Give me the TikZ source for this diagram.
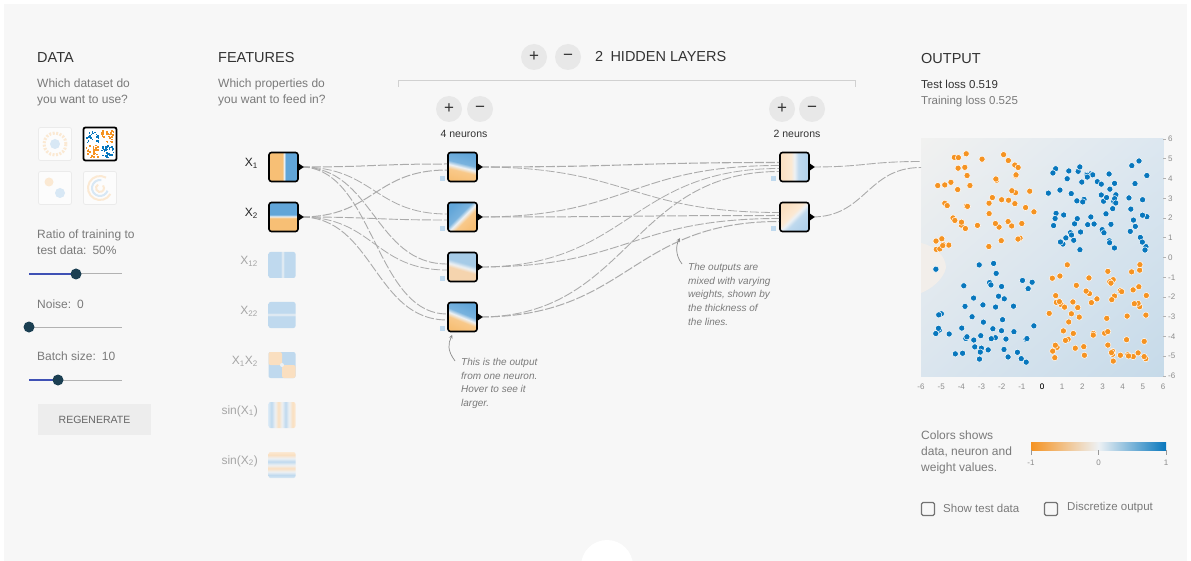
\documentclass[tikz,border=0pt]{standalone}
\usepackage{fontspec}
\setmainfont{Liberation Sans}
\usepackage{tikz}
\usetikzlibrary{shadings}

\definecolor{pagegray}{HTML}{F7F7F7}
\definecolor{hintgray}{HTML}{7A7A7A}
\definecolor{textdark}{HTML}{333333}
\definecolor{pgorange}{HTML}{F59322}
\definecolor{pgblue}{HTML}{0877BD}
\definecolor{fo}{HTML}{F7BF75}
\definecolor{fb}{HTML}{61A5D8}
\definecolor{po}{HTML}{FADFC0}
\definecolor{pb}{HTML}{BFD9EE}
\definecolor{mo}{HTML}{F5D4AE}
\definecolor{mb}{HTML}{A6CBE7}
\definecolor{mid}{HTML}{EDF1F4}
\definecolor{knob}{HTML}{1B3F52}
\definecolor{track}{HTML}{3F51B5}
\definecolor{btngray}{HTML}{E8E8E8}
\definecolor{linkgray}{HTML}{ABABAB}
\definecolor{plotul}{HTML}{F1F1F0}
\definecolor{plotur}{HTML}{DCE7F0}
\definecolor{plotll}{HTML}{DAE5EE}
\definecolor{plotlr}{HTML}{C6DAE9}
\definecolor{plotbeige}{HTML}{F2EEEA}
\colorlet{fosoft}{fo!85!white}
\colorlet{fbsoft}{fb!85!white}
\colorlet{polight}{po!70!white}
\colorlet{pblight}{pb!60!white}
\colorlet{pbdeep}{pb!85!fb}

% output images of the units: orange on the left, blue on the right
\pgfdeclarehorizontalshading{vivid}{100bp}{color(0bp)=(fo); color(25bp)=(fo); color(48bp)=(fo); color(51bp)=(mid); color(54bp)=(fb); color(75bp)=(fb); color(100bp)=(fb)}
\pgfdeclarehorizontalshading{soft}{100bp}{color(0bp)=(fo); color(25bp)=(fo); color(42bp)=(fosoft); color(49bp)=(mid); color(56bp)=(fbsoft); color(75bp)=(fb); color(100bp)=(fb)}
\pgfdeclarehorizontalshading{mild}{100bp}{color(0bp)=(mo); color(25bp)=(mo); color(44bp)=(mo); color(50bp)=(mid); color(57bp)=(mb); color(75bp)=(mb); color(100bp)=(mb)}
\pgfdeclarehorizontalshading{faint}{100bp}{color(0bp)=(po); color(25bp)=(po); color(44bp)=(polight); color(50bp)=(mid); color(57bp)=(pb); color(75bp)=(pbdeep); color(100bp)=(pbdeep)}
\pgfdeclarehorizontalshading{square}{100bp}{color(0bp)=(pb); color(25bp)=(pb); color(48bp)=(pb); color(51bp)=(mid); color(54bp)=(pb); color(75bp)=(pb); color(100bp)=(pb)}
\pgfdeclarehorizontalshading{sine}{100bp}{color(0bp)=(pblight); color(25bp)=(pblight); color(30.5bp)=(pb); color(37bp)=(mid); color(43.5bp)=(po); color(50bp)=(mid); color(56.5bp)=(pb); color(63bp)=(mid); color(69.5bp)=(po); color(75bp)=(polight); color(100bp)=(polight)}
\pgfdeclarehorizontalshading{colorbar}{100bp}{color(0bp)=(pgorange); color(25bp)=(pgorange); color(50bp)=(mid); color(75bp)=(pgblue); color(100bp)=(pgblue)}

\begin{document}
\begin{tikzpicture}[x=1pt, y=1pt,
    head/.style={anchor=west, inner sep=0pt, text=textdark, font=\fontsize{14.5}{17}\selectfont},
    hint/.style={anchor=west, inner sep=0pt, align=left, text=hintgray, font=\fontsize{12}{16}\selectfont},
    note/.style={anchor=north west, inner sep=0pt, align=left, text=hintgray, font=\itshape\fontsize{10}{13.7}\selectfont},
    sublabel/.style={inner sep=0pt, text=textdark, font=\fontsize{10.5}{12}\selectfont},
    roundbtn/.style={circle, fill=btngray, minimum size=26pt, inner sep=0pt, text=textdark, font=\fontsize{17}{17}\selectfont},
    dataset/.style={minimum size=33pt, inner sep=0pt, rounded corners=2pt, draw=black!8, fill=white!60!pagegray, line width=0.8pt},
    neuron/.style={draw=black, line width=1.6pt, rounded corners=2.5pt, minimum size=29pt, inner sep=0pt, shade},
    thumb/.style={minimum width=27pt, minimum height=26pt, inner sep=0pt, rounded corners=2pt},
    flabel/.style={anchor=east, inner sep=0pt, font=\fontsize{12}{14}\selectfont},
    link/.style={draw=linkgray, dash pattern=on 9pt off 2pt},
    notearrow/.style={draw=black!45, line width=0.7pt, ->, >=stealth},
    axislabel/.style={inner sep=0pt, text=black!45, font=\fontsize{8}{9}\selectfont},
    checkbox/.style={draw=black!55, line width=1.2pt, rounded corners=1.5pt, minimum size=13pt, inner sep=0pt}
]
    \useasboundingbox (0,0) rectangle (1191,-561);
    \fill[white] (0,0) rectangle (1191,-561);
    \fill[pagegray] (4,-4) rectangle (1187,-561);

    % --- DATA column ---
    \node[head] (data-title) at (37,-58) {DATA};
    \node[hint] (data-hint) at (37,-92) {Which dataset do\\you want to use?};

    \node[dataset] (ds-circle) at (55,-144) {};
    \node[dataset, draw=black, line width=1.8pt, fill=white] (ds-xor) at (100,-144) {};
    \node[dataset] (ds-gauss) at (55,-188) {};
    \node[dataset] (ds-spiral) at (100,-188) {};

    \draw[polight, line width=3pt, dash pattern=on 2pt off 1.5pt] (ds-circle.center) circle (11);
    \fill[pblight] (ds-circle.center) circle (5);
    \fill[polight] ([xshift=-6pt, yshift=6pt]ds-gauss.center) circle (4.5);
    \fill[pblight] ([xshift=5pt, yshift=-5pt]ds-gauss.center) circle (5);
    \draw[polight, line width=2pt] (ds-spiral.center) ++(60:12) arc[start angle=60, end angle=330, radius=12];
    \draw[pblight, line width=2pt] (ds-spiral.center) ++(80:8) arc[start angle=80, end angle=340, radius=8];
    \draw[polight, line width=2pt] (ds-spiral.center) ++(120:4) arc[start angle=120, end angle=400, radius=4];

    % points of the chosen dataset
    \pgfmathsetseed{3}
    \foreach \i in {1,...,110} {
        \pgfmathsetmacro{\dx}{12*rand}
        \pgfmathsetmacro{\dy}{12*rand}
        \pgfmathsetmacro{\ddx}{\dx+1.5*sign(\dx)}
        \pgfmathsetmacro{\ddy}{\dy+1.5*sign(\dy)}
        \pgfmathtruncatemacro{\lab}{\ddx*\ddy<0}
        \ifnum\lab=1 \def\dotcol{pgblue}\else\def\dotcol{pgorange}\fi
        \fill[\dotcol] ({100+\ddx-0.8},{-144+\ddy-0.8}) rectangle ++(1.7,1.7);
    }

    \node[hint] (ratio-hint) at (37,-242) {Ratio of training to\\test data:\enspace 50\%};
    \draw[black!30, line width=1pt] (29,-274) -- (122,-274);
    \draw[track, line width=1.4pt] (29,-274) -- (76,-274);
    \fill[knob] (76,-274) circle (5.5);

    \node[hint] (noise-hint) at (37,-304) {Noise:\enspace 0};
    \draw[black!30, line width=1pt] (29,-327) -- (122,-327);
    \fill[knob] (29,-327) circle (5.5);

    \node[hint] (batch-hint) at (37,-356) {Batch size:\enspace 10};
    \draw[black!30, line width=1pt] (29,-380) -- (122,-380);
    \draw[track, line width=1.4pt] (29,-380) -- (58,-380);
    \fill[knob] (58,-380) circle (5.5);

    \node[fill=black!7, minimum width=113pt, minimum height=31pt, inner sep=0pt,
        text=black!60, font=\fontsize{10.5}{12}\selectfont] (regen) at (94.5,-419.5) {REGENERATE};

    % --- FEATURES column ---
    \node[head] (feat-title) at (218,-58) {FEATURES};
    \node[hint] (feat-hint) at (218,-92) {Which properties do\\you want to feed in?};

    \node[neuron, shading=vivid, shading angle=0] (f-1) at (283.5,-167) {};
    \node[neuron, shading=vivid, shading angle=90] (f-2) at (283.5,-217) {};
    \node[thumb, shade, shading=square, shading angle=0] (f-3) at (282,-265) {};
    \node[thumb, shade, shading=square, shading angle=90] (f-4) at (282,-315) {};
    \node[thumb, fill=pb, path picture={
        \fill[po] (path picture bounding box.north west) rectangle (path picture bounding box.center);
        \fill[po] (path picture bounding box.south east) rectangle (path picture bounding box.center);
        \fill[mid] (path picture bounding box.center) circle (2);
    }] (f-5) at (282,-365) {};
    \node[thumb, shade, shading=sine, shading angle=0] (f-6) at (282,-415) {};
    \node[thumb, shade, shading=sine, shading angle=90] (f-7) at (282,-465) {};

    \node[flabel, text=black!85] (lbl-1) at (258,-163) {X\textsubscript{1}};
    \node[flabel, text=black!85] (lbl-2) at (258,-213) {X\textsubscript{2}};
    \foreach \r/\txt in {3/X\textsubscript{12}, 4/X\textsubscript{22}, 5/X\textsubscript{1}X\textsubscript{2},
                          6/sin(X\textsubscript{1}), 7/sin(X\textsubscript{2})}
        \node[flabel, text=black!35] (lbl-\r) at (258, {-261-50*(\r-3)}) {\txt};

    % --- HIDDEN LAYERS ---
    \node[roundbtn] (add-layer) at (534,-57) {+};
    \node[roundbtn] (del-layer) at (568,-57) {−};
    \node[head] (layers-title) at (595,-57) {2\enspace HIDDEN LAYERS};
    \draw[black!18, line width=1pt] (398,-87) -- (398,-81) -- (855,-81) -- (855,-87);

    \node[roundbtn] (add-1) at (449,-109) {+};
    \node[roundbtn] (del-1) at (480,-109) {−};
    \node[sublabel] (count-1) at (464,-134) {4 neurons};
    \node[roundbtn] (add-2) at (782,-109) {+};
    \node[roundbtn] (del-2) at (812,-109) {−};
    \node[sublabel] (count-2) at (797,-134) {2 neurons};

    \foreach \r/\ang/\shd in {1/76/soft, 2/135/soft, 3/74/mild, 4/68/soft} {
        \node[neuron, shading=\shd, shading angle=\ang] (h1-\r) at (462.5, {-167-50*(\r-1)}) {};
        \fill[pb] ([xshift=-7pt, yshift=1pt]h1-\r.south west) rectangle ++(5,5);
    }
    \foreach \r/\ang in {1/0, 2/-45} {
        \node[neuron, shading=faint, shading angle=\ang] (h2-\r) at (794.5, {-167-50*(\r-1)}) {};
        \fill[pb] ([xshift=-8pt, yshift=1pt]h2-\r.south west) rectangle ++(5,5);
    }

    % --- OUTPUT ---
    \node[head] (out-title) at (921,-59) {OUTPUT};
    \node[anchor=west, inner sep=0pt, text=textdark, font=\fontsize{11.5}{13}\selectfont] (test-loss) at (921,-84) {Test loss 0.519};
    \node[anchor=west, inner sep=0pt, text=hintgray, font=\fontsize{11.5}{13}\selectfont] (train-loss) at (921,-102) {Training loss 0.525};

    \node[minimum width=242pt, minimum height=237pt, inner sep=0pt, anchor=north west] (out) at (921,-139) {};
    \shade[upper left=plotul, upper right=plotur, lower left=plotll, lower right=plotlr] (out.north west) rectangle (out.south east);
    \fill[plotbeige] (921,-243) .. controls (935,-246) and (946,-256) .. (946,-268) .. controls (943,-280) and (931,-289) .. (921,-293) -- cycle;
    \coordinate (out-in) at (921,-164.5);

    % training points, XOR
    \pgfmathsetseed{11}
    \foreach \i in {1,...,250} {
        \pgfmathsetmacro{\ux}{5*rand}
        \pgfmathsetmacro{\uy}{5*rand}
        \pgfmathsetmacro{\px}{\ux+0.3*sign(\ux)}
        \pgfmathsetmacro{\py}{\uy+0.3*sign(\uy)}
        \pgfmathtruncatemacro{\lab}{\px*\py>=0}
        \ifnum\lab=1 \def\dotcol{pgblue}\else\def\dotcol{pgorange}\fi
        \filldraw[fill=\dotcol, draw=white, line width=0.5pt] ({1042+20.17*\px},{-257.5+19.75*\py}) circle (3.1);
    }

    \foreach \v in {-6,...,6} {
        \node[axislabel] (xl\v) at ({1042+20.17*\v}, -387) {\v};
        \node[axislabel, anchor=west] (yl\v) at (1168, {-257.5+19.75*\v}) {\v};
        \draw[black!30, line width=0.6pt] (1163, {-257.5+19.75*\v}) -- ++(3,0);
    }
    \node[axislabel, text=black] (xl0) at (1042, -387) {0};

    % colour legend
    \node[hint, anchor=north west] (legend-hint) at (921,-431) {Colors shows\\data, neuron and\\weight values.};
    \shade[shading=colorbar] (1031,-442) rectangle (1166,-450);
    \foreach \t/\x in {-1/1031, 0/1098.5, 1/1166} {
        \draw[black!40, line width=0.6pt] (\x,-450) -- (\x,-455);
        \node[axislabel] (cb\t) at (\x,-463) {\t};
    }

    \node[checkbox] (show-test) at (928,-509) {};
    \node[anchor=west, inner sep=0pt, text=hintgray, font=\fontsize{11.5}{13}\selectfont] (show-test-lbl) at (943,-508) {Show test data};
    \node[checkbox] (discretize) at (1051,-509) {};
    \node[anchor=west, inner sep=0pt, text=hintgray, font=\fontsize{11.5}{13}\selectfont] (discretize-lbl) at (1067,-508) {Discretize output};

    % --- LINKS (weights) ---
    \foreach \f/\h/\w in {1/1/1.0, 1/2/0.8, 1/3/0.9, 1/4/0.9, 2/1/1.0, 2/2/0.9, 2/3/0.8, 2/4/0.9} {
        \pgfmathsetmacro{\off}{(1.5-\f)*6}
        \draw[link, line width=\w pt] ([xshift=2pt]f-\f.east) .. controls +(73,0) and +(-73,0) .. ([yshift=\off]h1-\h.west);
    }
    \foreach \h/\k/\w in {1/1/1.1, 1/2/0.8, 2/1/0.9, 2/2/1.0, 3/1/0.8, 3/2/0.9, 4/1/0.9, 4/2/1.0} {
        \pgfmathsetmacro{\off}{(2.5-\h)*3}
        \draw[link, line width=\w pt] ([xshift=2pt]h1-\h.east) .. controls +(149,0) and +(-149,0) .. ([yshift=\off]h2-\k.west);
    }
    \foreach \k in {1,2} {
        \pgfmathsetmacro{\off}{(1.5-\k)*6}
        \draw[link, line width=0.9pt] ([xshift=2pt]h2-\k.east) .. controls +(54,0) and +(-54,0) .. ([yshift=\off]out-in);
    }

    % output markers on the active units
    \foreach \n in {f-1, f-2, h1-1, h1-2, h1-3, h1-4, h2-1, h2-2}
        \fill (\n.east) ++(0,3.5) -- ++(5,-3.5) -- ++(-5,-3.5) -- cycle;

    % --- hints ---
    \node[note] (note-neuron) at (461,-358) {This is the output\\from one neuron.\\Hover to see it\\larger.};
    \draw[notearrow] ([xshift=-6pt, yshift=-3pt]note-neuron.north west) .. controls +(-8,11) and +(-4,-9) .. ([xshift=5pt, yshift=-2.5pt]h1-4.south west);

    \coordinate (weights-tip) at (680,-238);
    \node[note] (note-weights) at (688,-263) {The outputs are\\mixed with varying\\weights, shown by\\the thickness of\\the lines.};
    \draw[notearrow] ([xshift=-6pt, yshift=-1pt]note-weights.north west) .. controls +(-7,9) and +(-4,-7) .. (weights-tip);

    \fill[white] (607,-566) circle (26);
\end{tikzpicture}
\end{document}
